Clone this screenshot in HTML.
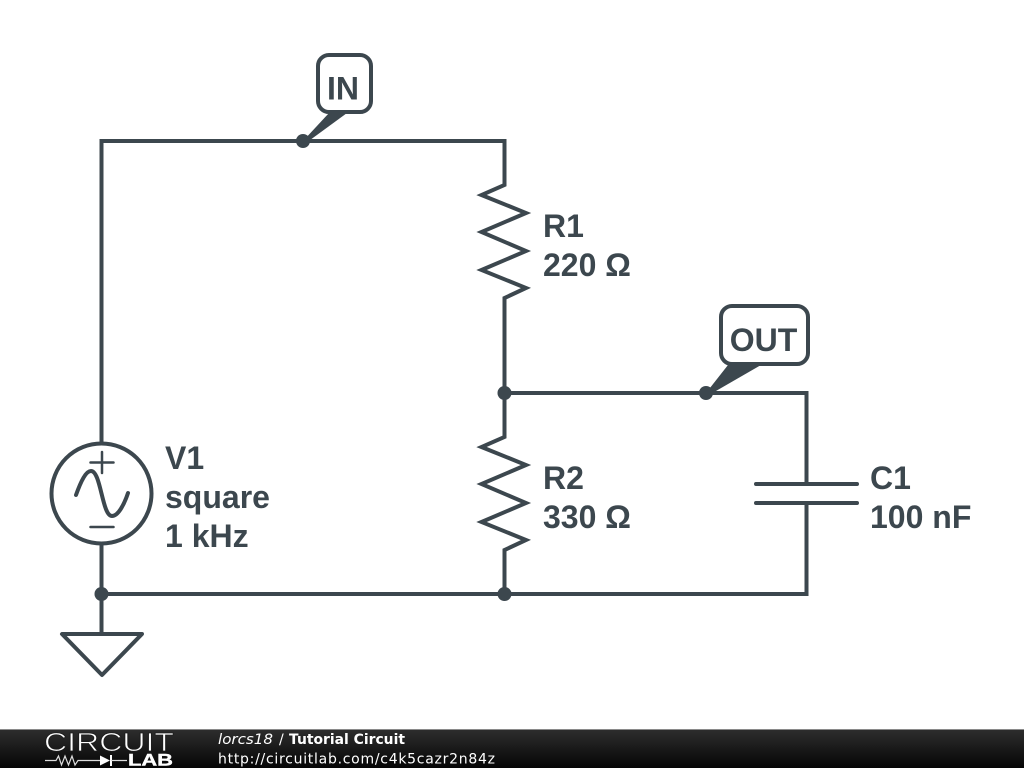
<!DOCTYPE html>
<html><head><meta charset="utf-8"><style>
html,body{margin:0;padding:0;background:#fff;width:1024px;height:768px;overflow:hidden}
svg{display:block}
.t{font-family:"Liberation Sans",Arial,sans-serif;font-weight:700;font-size:32px;fill:#3c474e}
.d{font-family:"DejaVu Sans",sans-serif;font-size:14px;fill:#fff}
</style></head><body>
<svg width="1024" height="768" viewBox="0 0 1024 768" xmlns="http://www.w3.org/2000/svg">
<defs><linearGradient id="g" x1="0" y1="0" x2="0" y2="1"><stop offset="0" stop-color="#2e2e2e"/><stop offset="1" stop-color="#050505"/></linearGradient></defs>
<g fill="none" stroke="#3c474e" stroke-width="4" stroke-linejoin="miter">
<path d="M101.5 442V141H504.5V185L481.500 195L526 213L481.500 232L526 251L481.500 270L526 288L504.5 298V437L481.500 447L526 465L481.500 484L526 503L481.500 522L526 540L504.5 550V594"/>
<path d="M504.5 393H806.5V484M806.5 503V594H101.5M101.5 545V634"/>
<circle cx="101.5" cy="493.5" r="50"/>
<path d="M90.500 462.500H113.500M102 452V473M90.500 527H113.500" stroke-linecap="round" stroke-width="2.500"/>
<path d="M76 495C81 481 86 471 91 471C101 471 102 516 112 516C118 516 124 505 128 493" stroke-linecap="round"/>
<path d="M62 634H142L102 675Z" stroke-linejoin="round"/>
<path d="M756 484H857M756 503H857" stroke-linecap="round"/>
<rect x="318" y="55" width="53" height="57" rx="11" fill="#fff"/>
<rect x="721" y="306" width="87" height="58" rx="11" fill="#fff"/>
</g>
<g fill="#3c474e">
<path d="M303 141L329 113H347L306 143Z"/>
<path d="M706 393L728 365H761L709 395Z"/>
<circle cx="303" cy="141" r="7"/>
<circle cx="504.500" cy="393" r="7"/>
<circle cx="706" cy="393" r="7"/>
<circle cx="504.500" cy="594" r="7"/>
<circle cx="101.500" cy="594" r="7"/>
</g>
<g>
<text class="t" x="343" y="99.500" text-anchor="middle">IN</text>
<text class="t" x="763.500" y="351" text-anchor="middle">OUT</text>
<text class="t" x="543" y="237">R1</text>
<text class="t" x="543" y="276">220 Ω</text>
<text class="t" x="543" y="489">R2</text>
<text class="t" x="543" y="528">330 Ω</text>
<text class="t" x="870" y="489">C1</text>
<text class="t" x="870" y="528">100 nF</text>
<text class="t" x="165" y="469">V1</text>
<text class="t" x="165" y="508">square</text>
<text class="t" x="165" y="547">1 kHz</text>
</g>
<rect x="0" y="729" width="1024" height="39" fill="url(#g)"/>
<rect x="0" y="729" width="1024" height="1" fill="#8a8a8a"/>
<text x="44" y="751" font-family="Liberation Sans,sans-serif" font-size="26" fill="#fff" stroke="#1d1d1d" stroke-width="0.800" textLength="130" lengthAdjust="spacingAndGlyphs">CIRCUIT</text>
<path d="M45 760.500H56L58.500 756L61.500 765L65 756L68.500 765L72 756L75 765L78 760.500H100M118 760.500H127" fill="none" stroke="#ddd" stroke-width="1.200"/>
<path d="M100 755.500L110 760.500L100 765.500Z" fill="#fff"/>
<path d="M111 755V766" stroke="#fff" stroke-width="2"/>
<path d="M111 760.500H118" stroke="#ddd" stroke-width="1.200"/>
<text x="128" y="765.500" font-family="Liberation Sans,sans-serif" font-weight="700" font-size="17" fill="#fff" stroke="#fff" stroke-width="0.400" textLength="45" lengthAdjust="spacingAndGlyphs">LAB</text>
<text class="d" x="218" y="744" font-style="italic" textLength="55" lengthAdjust="spacingAndGlyphs">lorcs18</text>
<text class="d" x="279" y="744">/</text>
<text class="d" x="289" y="744" font-weight="700" textLength="116" lengthAdjust="spacingAndGlyphs">Tutorial Circuit</text>
<text class="d" x="218" y="763.500" textLength="277">http://circuitlab.com/c4k5cazr2n84z</text>
</svg>
</body></html>
